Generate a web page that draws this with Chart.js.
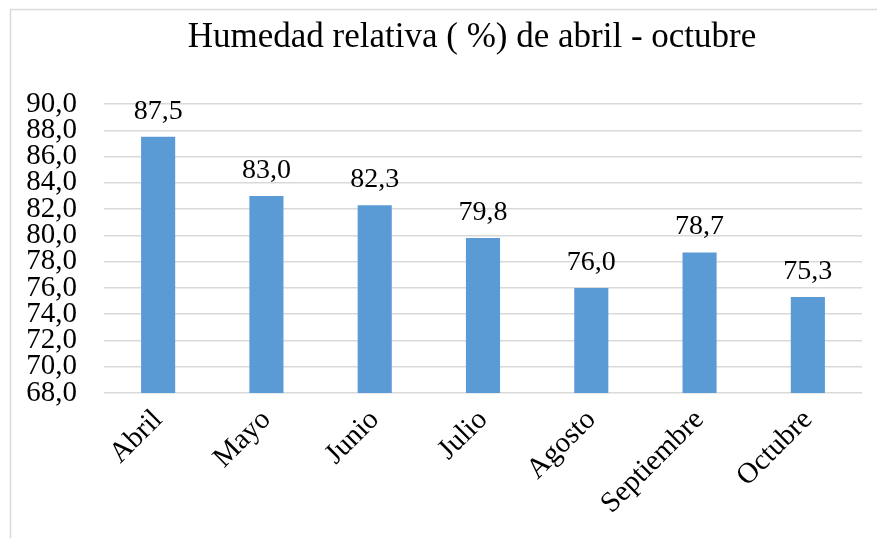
<!DOCTYPE html>
<html>
<head>
<meta charset="utf-8">
<title>Humedad relativa</title>
<script src="https://cdn.jsdelivr.net/npm/chart.js@4.4.1/dist/chart.umd.min.js"></script>
<style>
  html, body { margin: 0; padding: 0; background: #fff; overflow: hidden; }
  #wrap { width: 877px; height: 538px; position: relative; }
</style>
</head>
<body>
<div id="wrap"><canvas id="c" width="877" height="538"></canvas></div>
<script>
// Monthly mean relative humidity (%)
const months = ['Abril', 'Mayo', 'Junio', 'Julio', 'Agosto', 'Septiembre', 'Octubre'];
const humidity = [87.5, 83.0, 82.3, 79.8, 76.0, 78.7, 75.3];
const chartTitle = 'Humedad relativa ( %) de abril - octubre';
const yMin = 68, yMax = 90, yStep = 2;

const SERIF = '"Liberation Serif", "Times New Roman", "DejaVu Serif", serif';
const fmt = v => Number(v).toFixed(1).replace('.', ',');

// Outer frame and title
const framePlugin = {
  id: 'frame',
  beforeDraw(chart) {
    const ctx = chart.ctx;
    ctx.save();
    ctx.fillStyle = '#fff';
    ctx.fillRect(0, 0, chart.width, chart.height);
    ctx.strokeStyle = '#d9d9d9';
    ctx.lineWidth = 1.5;
    ctx.strokeRect(10.5, 9.5, 1200, 1200);
    ctx.restore();
  },
  afterDraw(chart) {
    const ctx = chart.ctx;
    ctx.save();
    ctx.fillStyle = '#000';
    ctx.font = '35px ' + SERIF;
    ctx.textAlign = 'center';
    ctx.textBaseline = 'alphabetic';
    ctx.fillText(chartTitle, 472, 47);
    ctx.restore();
  }
};

// Value labels above each bar
const valueLabels = {
  id: 'valueLabels',
  afterDatasetsDraw(chart) {
    const ctx = chart.ctx;
    const meta = chart.getDatasetMeta(0);
    const data = chart.data.datasets[0].data;
    ctx.save();
    ctx.fillStyle = '#000';
    ctx.font = '28px ' + SERIF;
    ctx.textAlign = 'center';
    ctx.textBaseline = 'alphabetic';
    meta.data.forEach((bar, i) => {
      ctx.fillText(fmt(data[i]), bar.x, bar.y - 18);
    });
    ctx.restore();
  }
};

new Chart(document.getElementById('c'), {
  type: 'bar',
  data: {
    labels: months,
    datasets: [{
      data: humidity,
      backgroundColor: '#5b9bd5',
      borderWidth: 0,
      categoryPercentage: 1.0,
      barPercentage: 0.315
    }]
  },
  options: {
    responsive: false,
    animation: false,
    devicePixelRatio: 1,
    layout: { padding: { left: 10, right: 15, top: 104, bottom: 0 } },
    plugins: {
      legend: { display: false },
      title: { display: false },
      tooltip: { enabled: false }
    },
    scales: {
      x: {
        grid: { display: false },
        border: { display: false },
        ticks: {
          color: '#000',
          font: { family: SERIF, size: 29 },
          minRotation: 45,
          maxRotation: 45,
          padding: 2,
          autoSkip: false
        },
        afterFit(scale) { scale.height = 145; }
      },
      y: {
        min: yMin,
        max: yMax,
        grid: { color: '#d9d9d9', lineWidth: 1.5, drawTicks: false },
        border: { display: false },
        ticks: {
          stepSize: yStep,
          autoSkip: false,
          color: '#000',
          font: { family: SERIF, size: 29 },
          padding: 27,
          callback: v => fmt(v)
        },
        afterFit(scale) { scale.width = 94; }
      }
    }
  },
  plugins: [framePlugin, valueLabels]
});
</script>
</body>
</html>
